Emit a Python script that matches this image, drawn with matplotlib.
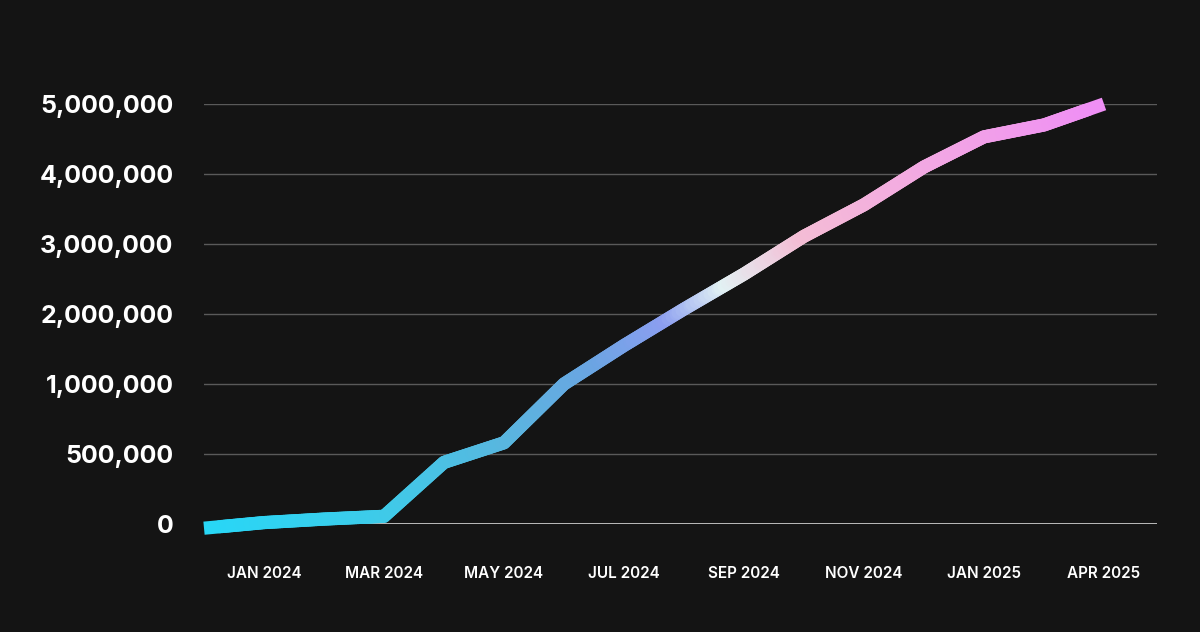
import numpy as np
import matplotlib
matplotlib.use("Agg")
import matplotlib.pyplot as plt
from matplotlib.collections import LineCollection
from matplotlib.colors import LinearSegmentedColormap
from matplotlib.ticker import FuncFormatter

# monthly totals, DEC 2023 .. APR 2025
months = ["DEC 2023", "JAN 2024", "FEB 2024", "MAR 2024", "APR 2024", "MAY 2024",
          "JUN 2024", "JUL 2024", "AUG 2024", "SEP 2024", "OCT 2024", "NOV 2024",
          "DEC 2024", "JAN 2025", "FEB 2025", "APR 2025"]
totals = [-30000, 10000, 35000, 55000, 440000, 580000,
          1000000, 1550000, 2070000, 2570000, 3110000, 3560000,
          4100000, 4530000, 4700000, 5000000]

tick_months = ["JAN 2024", "MAR 2024", "MAY 2024", "JUL 2024",
               "SEP 2024", "NOV 2024", "JAN 2025", "APR 2025"]
y_ticks = [0, 500000, 1000000, 2000000, 3000000, 4000000, 5000000]

BG = "#141414"

# axis is squeezed: 0-1M in half-million steps, then million steps
def fwd(v):
    v = np.asarray(v, dtype=float)
    return np.where(v <= 1e6, v / 5e5, 1 + v / 1e6)

def inv(p):
    p = np.asarray(p, dtype=float)
    return np.where(p <= 2, p * 5e5, (p - 1) * 1e6)

fig = plt.figure(figsize=(12, 6.32), dpi=100, facecolor=BG)
ax = fig.add_axes([0.17, 0.1709, 0.794, 0.6646], facecolor=BG)
ax.set_yscale("function", functions=(fwd, inv))
ax.set_xlim(0, 15.88)
ax.set_ylim(0, 5000000)

for s in ax.spines.values():
    s.set_visible(False)

ax.set_yticks(y_ticks)
ax.yaxis.set_major_formatter(FuncFormatter(lambda v, p: f"{v:,.0f}"))
ax.set_yticks([], minor=True)
xi = [months.index(m) for m in tick_months]
ax.set_xticks(xi)
ax.set_xticklabels(tick_months)
ax.tick_params(axis="y", length=0, pad=22, colors="white", labelsize=18)
ax.tick_params(axis="x", length=0, pad=30, colors="white", labelsize=11)
for t in ax.get_yticklabels():
    t.set_family(["Inter", "DejaVu Sans"])
    t.set_fontweight("bold")
for t in ax.get_xticklabels():
    t.set_family(["Inter", "DejaVu Sans"])
    t.set_fontweight("semibold")

for v in y_ticks:
    if v == 0:
        ax.axhline(v, color="#c8c8c8", lw=1.3, zorder=1)
    else:
        ax.axhline(v, color="#5a5a5a", lw=1.0, zorder=1)

# gradient line: split each segment into short pieces (straight in axis space)
x = np.arange(len(totals), dtype=float)
p = fwd(totals)
xs, ps = [], []
for i in range(len(x) - 1):
    t = np.linspace(0, 1, 31)[:-1]
    xs.append(x[i] + t * (x[i + 1] - x[i]))
    ps.append(p[i] + t * (p[i + 1] - p[i]))
xs = np.concatenate(xs + [[x[-1]]])
ys = inv(np.concatenate(ps + [[p[-1]]]))
pts = np.column_stack([xs, ys]).reshape(-1, 1, 2)
segs = np.concatenate([pts[:-1], pts[1:]], axis=1)

cmap = LinearSegmentedColormap.from_list("grad", [
    (0.0, "#27d7f7"), (3 / 15, "#3ecbe9"), (5 / 15, "#58b7df"),
    (6.5 / 15, "#6aa5e2"), (7.7 / 15, "#8b9ef0"), (8.7 / 15, "#e2f1f3"),
    (10 / 15, "#f4bdd5"), (11.5 / 15, "#f3aedf"), (1.0, "#ef8ef5")])
cols = cmap((segs[:, 0, 0] + segs[:, 1, 0]) / 2 / 15)

lw = 9.5
k = 8  # flat-cut pieces at both ends, long enough to hide the round caps
inner = LineCollection(segs[k:-k], colors=cols[k:-k], linewidths=lw,
                       capstyle="round", joinstyle="round", zorder=3, clip_on=False)
end_segs = [[pts[0, 0], pts[k, 0]], [pts[-1 - k, 0], pts[-1, 0]]]
ends = LineCollection(end_segs, colors=[cols[k // 2], cols[-k // 2]], linewidths=lw,
                      capstyle="butt", zorder=3, clip_on=False)
ax.add_collection(inner)
ax.add_collection(ends)

fig.savefig("out.png", dpi=100, facecolor=BG)
